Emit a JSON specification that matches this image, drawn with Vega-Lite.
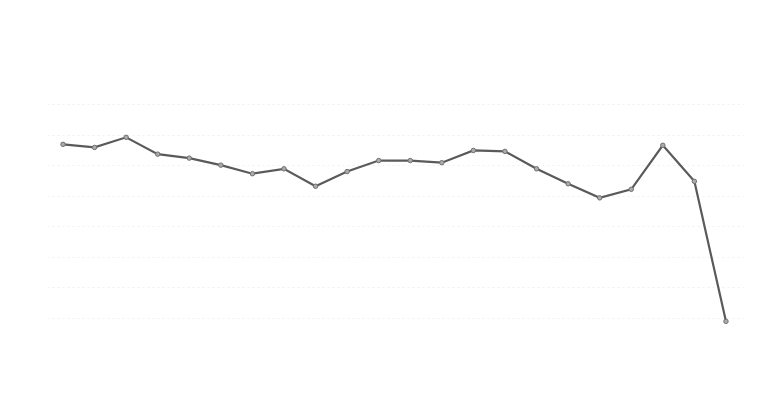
{
  "$schema": "https://vega.github.io/schema/vega-lite/v6.json",
  "autosize": {"type": "none"},
  "padding": {"left": 47, "top": 104, "right": 25, "bottom": 101},
  "width": 696,
  "height": 214,
  "background": "white",
  "config": {"view": {"stroke": null}},
  "data": {"values": [
    {"i": 1, "v": 56.8}, {"i": 2, "v": 55.8}, {"i": 3, "v": 59.1}, {"i": 4, "v": 53.6},
    {"i": 5, "v": 52.3}, {"i": 6, "v": 50.0}, {"i": 7, "v": 47.2}, {"i": 8, "v": 48.8},
    {"i": 9, "v": 43.1}, {"i": 10, "v": 47.9}, {"i": 11, "v": 51.5}, {"i": 12, "v": 51.5},
    {"i": 13, "v": 50.8}, {"i": 14, "v": 54.8}, {"i": 15, "v": 54.5}, {"i": 16, "v": 48.8},
    {"i": 17, "v": 43.9}, {"i": 18, "v": 39.3}, {"i": 19, "v": 42.1}, {"i": 20, "v": 56.5},
    {"i": 21, "v": 44.7}, {"i": 22, "v": -1.1}
  ]},
  "encoding": {
    "x": {"field": "i", "type": "quantitative", "scale": {"domain": [0.493, 22.54], "nice": false, "zero": false}, "axis": null},
    "y": {"field": "v", "type": "quantitative", "scale": {"domain": [0, 70], "nice": false, "zero": false},
      "axis": {"values": [0, 10, 20, 30, 40, 50, 60, 70], "domain": false, "ticks": false, "labels": false, "title": null, "grid": true, "gridColor": "#f0f0f0", "gridDash": [2, 3], "gridWidth": 1}}
  },
  "layer": [
    {"mark": {"type": "line", "color": "#5a5a5a", "strokeWidth": 2.2, "clip": false}},
    {"mark": {"type": "point", "filled": true, "fill": "#ababab", "stroke": "#707070", "strokeWidth": 1, "size": 20, "opacity": 1, "clip": false}}
  ]
}
